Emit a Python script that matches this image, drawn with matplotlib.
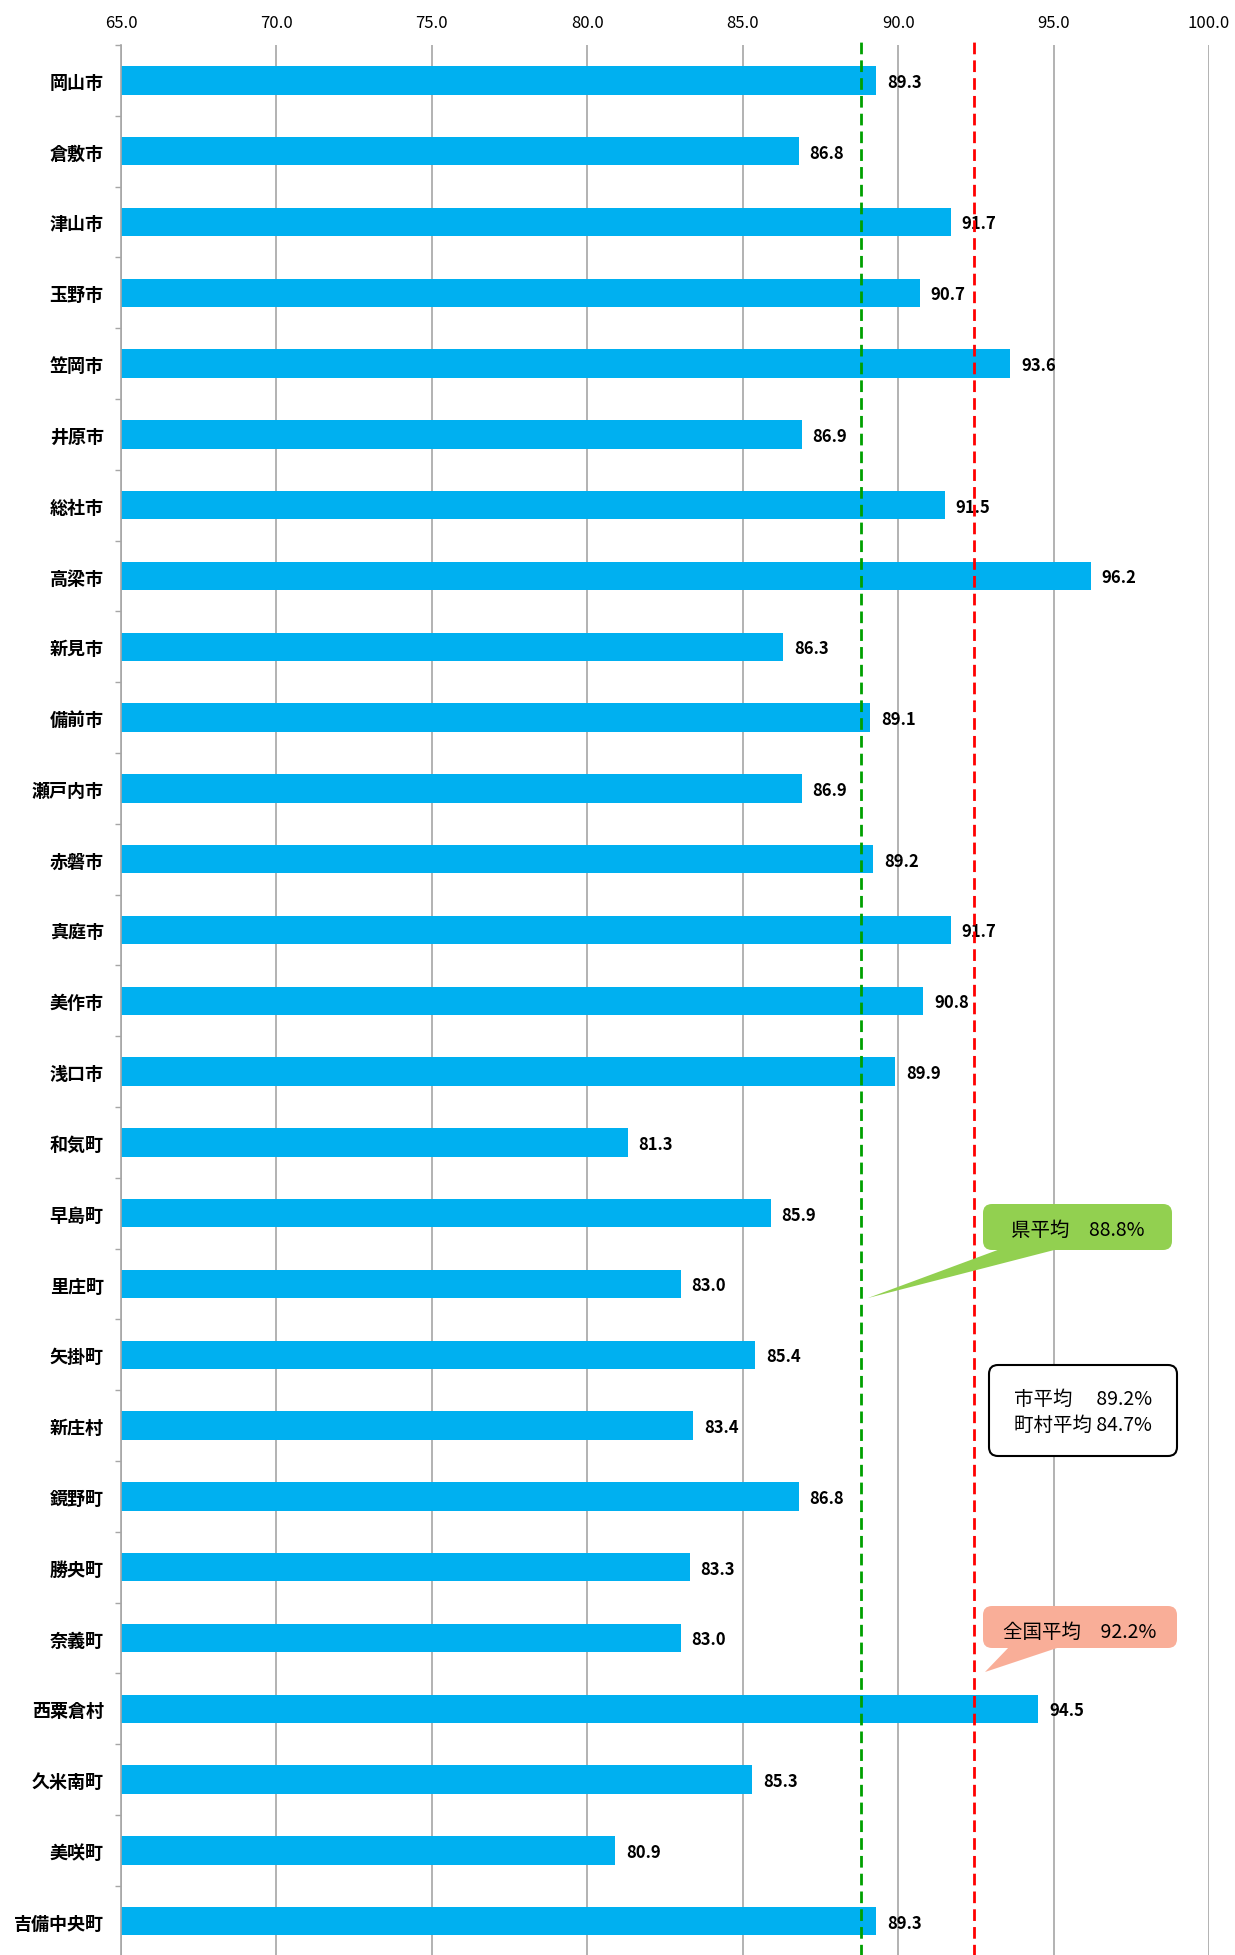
"""Municipal ratio by city/town - horizontal bar chart with averages"""
import matplotlib
matplotlib.use('Agg')
import matplotlib.pyplot as plt
from matplotlib.patches import FancyBboxPatch, Polygon
from matplotlib.transforms import IdentityTransform
import numpy as np

plt.rcParams['font.family'] = ['Noto Sans CJK JP', 'DejaVu Sans']

BAR_BLUE = '#00B0F0'
GRID_GRAY = '#A6A6A6'
PREF_GREEN = '#00A000'
NATION_RED = '#FF0000'
CALLOUT_GREEN = '#92D050'
CALLOUT_RED = '#F9AE98'

cities = ['岡山市', '倉敷市', '津山市', '玉野市', '笠岡市', '井原市', '総社市',
          '高梁市', '新見市', '備前市', '瀬戸内市', '赤磐市', '真庭市', '美作市',
          '浅口市', '和気町', '早島町', '里庄町', '矢掛町', '新庄村', '鏡野町',
          '勝央町', '奈義町', '西粟倉村', '久米南町', '美咲町', '吉備中央町']
values = [89.3, 86.8, 91.7, 90.7, 93.6, 86.9, 91.5, 96.2, 86.3, 89.1, 86.9,
          89.2, 91.7, 90.8, 89.9, 81.3, 85.9, 83.0, 85.4, 83.4, 86.8, 83.3,
          83.0, 94.5, 85.3, 80.9, 89.3]
x_ticks = [65.0, 70.0, 75.0, 80.0, 85.0, 90.0, 95.0, 100.0]

pref_avg = 88.8      # 県平均
nation_avg = 92.45   # 全国平均 line as drawn (label says 92.2)
city_avg = 89.2
town_avg = 84.7

W, H = 1235, 1956
fig = plt.figure(figsize=(W / 100, H / 100), dpi=100)

band = 70.8
ax_top = 46
ax_h = band * len(cities)
ax = fig.add_axes([121 / W, (H - ax_top - ax_h) / H, (1209 - 121) / W, ax_h / H])

y = np.arange(len(cities))
ax.barh(y, [v - 65.0 for v in values], left=65.0, height=0.4, color=BAR_BLUE, zorder=2)

for yi, v in zip(y, values):
    ax.text(v + 0.35, yi + 0.02, f'{v:.1f}', va='center', ha='left',
            fontsize=12, fontweight='bold', zorder=3)

ax.set_xlim(65, 100)
ax.set_ylim(len(cities) - 0.5, -0.5)

ax.xaxis.tick_top()
ax.set_xticks(x_ticks)
ax.set_xticklabels([f'{t:.1f}' for t in x_ticks], fontsize=12)
ax.tick_params(axis='x', length=0, pad=10)

ax.set_yticks(y)
ax.set_yticklabels(cities, fontsize=13, fontweight='bold')
ax.set_yticks(np.arange(-0.5, len(cities), 1), minor=True)
ax.tick_params(axis='y', which='major', length=0, pad=12.5)
ax.tick_params(axis='y', which='minor', length=4.5, color=GRID_GRAY, width=1)

for s in ['top', 'right', 'bottom']:
    ax.spines[s].set_visible(False)
ax.spines['left'].set_color(GRID_GRAY)
ax.spines['left'].set_linewidth(1.2)
ax.grid(axis='x', color=GRID_GRAY, lw=1.2, zorder=0)
ax.set_axisbelow(True)

ax.axvline(pref_avg, ymin=0, ymax=1 + 4 / ax_h, color=PREF_GREEN, lw=2,
           linestyle=(0, (4.2, 2.2)), clip_on=False, zorder=4)
ax.axvline(nation_avg, ymin=0, ymax=1 + 8 / ax_h, color=NATION_RED, lw=2,
           linestyle=(0, (4.2, 2.2)), clip_on=False, zorder=4)

# callouts in image pixel coordinates
ident = IdentityTransform()


def callout(x0, y0, x1, y1, tail, color, edge=None):
    box = FancyBboxPatch((x0, H - y1), x1 - x0, y1 - y0,
                         boxstyle='round,pad=0,rounding_size=9',
                         facecolor=color, edgecolor=edge if edge else 'none',
                         lw=1.5 if edge else 0, transform=ident, zorder=10)
    fig.add_artist(box)
    if tail:
        poly = Polygon([(px, H - py) for px, py in tail], closed=True,
                       facecolor=color, edgecolor='none', transform=ident, zorder=10)
        fig.add_artist(poly)


callout(983, 1205, 1172, 1251, [(1003, 1249), (1062, 1249), (868, 1299)], CALLOUT_GREEN)
fig.text(1078 / W, 1 - 1230 / H, f'県平均　{pref_avg:.1f}%', ha='center', va='center',
         fontsize=14, zorder=11)

callout(989, 1366, 1177, 1457, None, 'white', edge='black')
fig.text(1083 / W, 1 - 1399 / H, f'市平均　 {city_avg:.1f}%', ha='center', va='center',
         fontsize=14, zorder=11)
fig.text(1083 / W, 1 - 1425 / H, f'町村平均 {town_avg:.1f}%', ha='center', va='center',
         fontsize=14, zorder=11)

callout(983, 1607, 1177, 1649, [(1010, 1647), (1063, 1647), (985, 1673)], CALLOUT_RED)
fig.text(1080 / W, 1 - 1632 / H, '全国平均　92.2%', ha='center', va='center',
         fontsize=14, zorder=11)

fig.savefig('out.png', dpi=100)
plt.close(fig)
print("Chart saved: out.png")
